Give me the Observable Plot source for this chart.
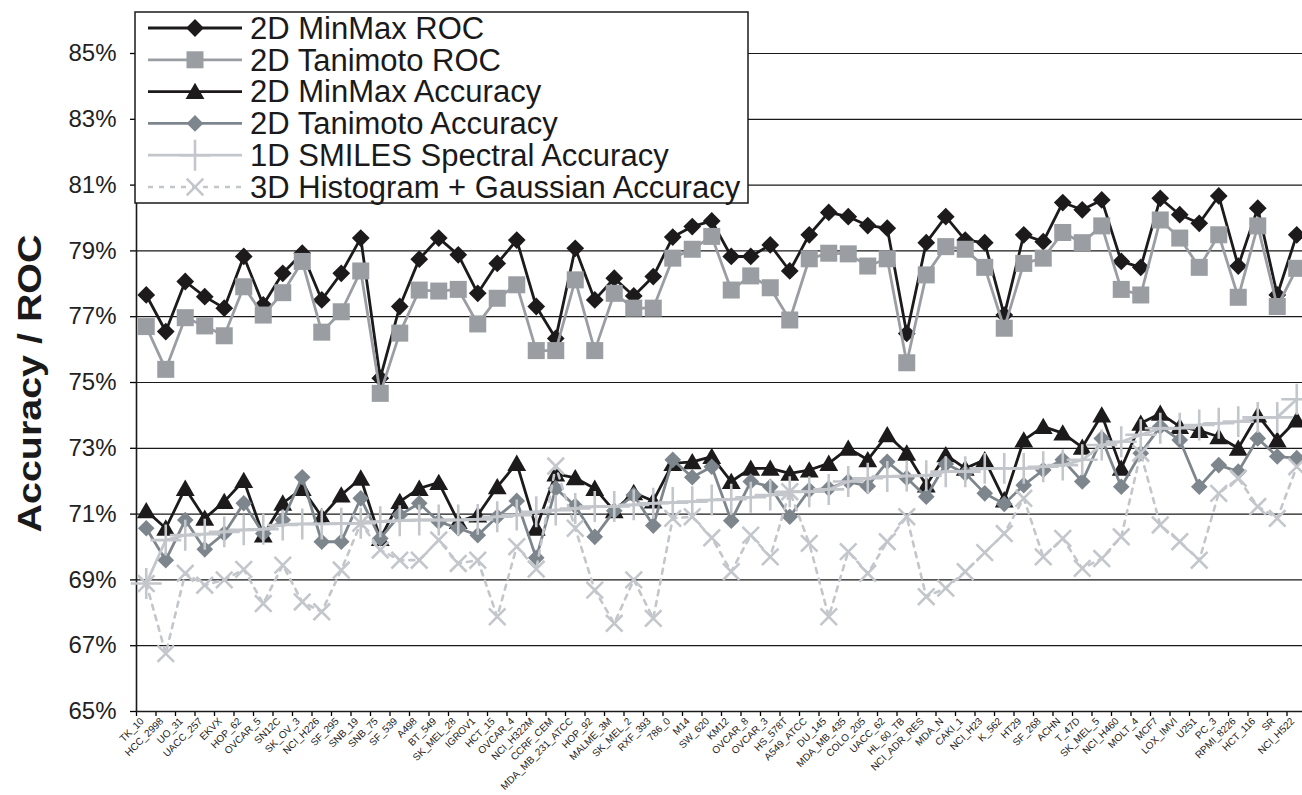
<!DOCTYPE html>
<html><head><meta charset="utf-8">
<script src="https://cdn.jsdelivr.net/npm/d3@7"></script>
<script src="https://cdn.jsdelivr.net/npm/@observablehq/plot@0.6"></script>
<style>
html,body{margin:0;padding:0;background:#fff;overflow:hidden}
#wrap{position:relative;width:1302px;height:795px;font-family:"Liberation Sans",Arial,sans-serif}
#wrap svg.plot{position:absolute;left:0;top:0}
#legend{position:absolute;left:134px;top:11px}
</style></head><body><div id="wrap"></div>
<script>
const cellLines = ["TK_10","HCC_2998","UO_31","UACC_257","EKVX","HOP_62","OVCAR_5","SN12C","SK_OV_3","NCI_H226","SF_295","SNB_19","SNB_75","SF_539","A498","BT_549","SK_MEL_28","IGROV1","HCT_15","OVCAR_4","NCI_H322M","CCRF_CEM","MDA_MB_231_ATCC","HOP_92","MALME_3M","SK_MEL_2","RXF_393","786_0","M14","SW_620","KM12","OVCAR_8","OVCAR_3","HS_578T","A549_ATCC","DU_145","MDA_MB_435","COLO_205","UACC_62","HL_60_TB","NCI_ADR_RES","MDA_N","CAKI_1","NCI_H23","K_562","HT29","SF_268","ACHN","T_47D","SK_MEL_5","NCI_H460","MOLT_4","MCF7","LOX_IMVI","U251","PC_3","RPMI_8226","HCT_116","SR","NCI_H522"];

const minmaxRoc = [77.66,76.55,78.07,77.61,77.26,78.83,77.36,78.32,78.93,77.51,78.32,79.39,75.13,77.31,78.75,79.39,78.88,77.71,78.62,79.33,
77.31,76.34,79.08,77.51,78.17,77.63,78.22,79.42,79.74,79.91,78.83,78.83,79.18,78.39,79.49,80.17,80.04,79.77,79.69,76.49,
79.25,80.04,79.33,79.25,77.05,79.49,79.28,80.47,80.25,80.55,78.68,78.50,80.60,80.10,79.84,80.67,78.54,80.30,77.66,79.49];

const tanimotoRoc = [76.70,75.40,76.97,76.72,76.42,77.91,77.05,77.73,78.68,76.53,77.15,78.39,74.67,76.50,77.81,77.78,77.83,76.78,77.56,77.97,
75.97,75.97,78.12,75.97,77.71,77.26,77.26,78.78,79.05,79.44,77.81,78.24,77.88,76.90,78.76,78.93,78.91,78.54,78.76,75.60,
78.27,79.13,79.05,78.50,76.65,78.62,78.78,79.56,79.25,79.76,77.83,77.66,79.94,79.39,78.50,79.49,77.59,79.76,77.31,78.47];

const minmaxAcc = [71.10,70.57,71.78,70.87,71.38,72.02,70.36,71.33,71.78,70.92,71.58,72.09,70.26,71.38,71.78,71.96,70.77,70.97,71.83,72.54,
70.57,72.22,72.10,71.78,71.10,71.65,71.40,72.54,72.59,72.75,71.99,72.39,72.39,72.24,72.34,72.54,73.00,72.65,73.41,72.85,
71.88,72.80,72.39,72.65,71.43,73.25,73.66,73.46,73.03,74.01,72.39,73.76,74.06,73.66,73.54,73.35,73.00,74.01,73.25,73.86];

const tanimotoAcc = [70.57,69.60,70.82,69.93,70.41,71.33,70.41,70.82,72.12,70.16,70.16,71.48,70.26,70.97,71.33,70.77,70.57,70.36,70.92,71.40,
69.67,71.78,71.25,70.31,71.10,71.58,70.65,72.65,72.12,72.44,70.80,71.99,71.83,70.92,71.73,71.78,71.99,71.85,72.59,72.10,
71.53,72.52,72.24,71.63,71.31,71.88,72.34,72.65,71.99,73.30,71.83,72.85,73.66,73.25,71.83,72.49,72.29,73.30,72.75,72.70];

const smilesAcc = [68.89,70.21,70.36,70.39,70.46,70.52,70.54,70.67,70.70,70.70,70.72,70.72,70.77,70.80,70.82,70.82,70.82,70.84,70.92,70.97,
71.07,71.12,71.17,71.23,71.23,71.28,71.33,71.35,71.38,71.43,71.45,71.51,71.58,71.68,71.68,71.75,71.99,72.09,72.14,72.16,
72.17,72.29,72.29,72.39,72.39,72.39,72.44,72.49,72.65,73.10,73.20,73.41,73.61,73.61,73.71,73.76,73.81,73.94,73.94,74.49];

const histAcc = [68.89,66.76,69.20,68.84,69.00,69.32,68.28,69.45,68.33,68.03,69.30,70.72,69.91,69.60,69.60,70.21,69.50,69.60,67.88,70.01,
69.33,72.46,70.57,68.69,67.68,69.00,67.83,70.87,70.92,70.28,69.25,70.36,69.70,71.68,70.11,67.88,69.86,69.20,70.16,70.92,
68.49,68.75,69.25,69.83,70.41,71.48,69.70,70.26,69.35,69.65,70.31,72.85,70.67,70.16,69.60,71.63,72.09,71.23,70.87,72.44];

const seriesNames = ["2D MinMax ROC","2D Tanimoto ROC","2D MinMax Accuracy","2D Tanimoto Accuracy","1D SMILES Spectral Accuracy","3D Histogram + Gaussian Accuracy"];
const seriesValues = [minmaxRoc, tanimotoRoc, minmaxAcc, tanimotoAcc, smilesAcc, histAcc];
const yTicks = [65,67,69,71,73,75,77,79,81,83,85];

// styles (not data)
const styles = [
  {color:"#1c1a1a", symbol:"diamond2", r:8,   filled:true,  lw:2.8, dash:null, dy:0},
  {color:"#9a9ea3", symbol:"square",   r:9.6, filled:true,  lw:2.8, dash:null, dy:0},
  {color:"#1c1a1a", symbol:"triangle", r:7,   filled:true,  lw:2.8, dash:null, dy:2},
  {color:"#7e868d", symbol:"diamond2", r:7.5, filled:true,  lw:2.8, dash:null, dy:0},
  {color:"#c3c6cb", symbol:"plus",     r:10,  filled:false, lw:2.8, dash:null, dy:0},
  {color:"#c3c6cb", symbol:"times",    r:7.6, filled:false, lw:2.6, dash:"5,6", dy:0}
];

const marks = [
  Plot.ruleY(yTicks.filter(d => d > 65), {stroke:"#1a1a1a", strokeWidth:1.2}),
  Plot.axisY({ticks: yTicks, tickFormat: d => d + "%", tickSize: 6, tickPadding: 14, fontSize: 24, label: null, fill:"#222", strokeWidth:1.3}),
  Plot.axisX({ticks: d3.range(61).map(i => i - 0.5), tickSize: 5, tickFormat: () => "", label: null, strokeWidth:1.3}),
  Plot.axisX({ticks: d3.range(60), tickSize: 0, tickPadding: 8, tickFormat: i => cellLines[i], tickRotate: -45,
              textAnchor: "end", lineAnchor: "middle", dx: -4, fontSize: 10, label: null, fill:"#222"}),
  Plot.ruleY([65], {stroke:"#1a1a1a", strokeWidth:1.6}),
  Plot.ruleX([-0.5], {y1: 65, y2: 86, stroke:"#1a1a1a", strokeWidth:1.6}),
  Plot.text(["Accuracy / ROC"], {text: d => d, frameAnchor: "left", dx: -106, rotate: -90, fontSize: 34, fontWeight: "bold", fill:"#1a1a1a"})
];

seriesValues.forEach((vals, k) => {
  const s = styles[k];
  const data = vals.map((v, i) => ({i, v}));
  marks.push(Plot.line(data, {x: "i", y: "v", stroke: s.color, strokeWidth: s.lw, strokeDasharray: s.dash, strokeLinejoin:"round"}));
  marks.push(Plot.dot(data, {x: "i", y: "v", symbol: s.symbol, r: s.r, dy: s.dy,
    fill: s.filled ? s.color : "none", stroke: s.filled ? "none" : s.color, strokeWidth: s.filled ? 0 : 2.6}));
});

const chart = Plot.plot({
  width: 1302, height: 795,
  marginLeft: 136, marginRight: 0, marginTop: 53, marginBottom: 84,
  style: {fontFamily: '"Liberation Sans", Arial, sans-serif', background: "#fff", overflow: "hidden"},
  x: {type: "linear", domain: [-0.5, 59.5], range: [136, 1306]},
  y: {type: "linear", domain: [65, 85]},
  marks
});
chart.classList.add("plot");
const wrap = document.getElementById("wrap");
wrap.appendChild(chart);

d3.select(chart).selectAll("text").filter(function(){ return this.textContent === "Accuracy / ROC"; })
  .attr("text-anchor", "start").attr("x", -150)
  .attr("textLength", 298).attr("lengthAdjust", "spacingAndGlyphs");

// legend overlay
const lg = d3.select(wrap).append("svg").attr("id","legend").attr("width", 618).attr("height", 196);
lg.append("rect").attr("x", 1).attr("y", 1).attr("width", 613).attr("height", 191)
  .attr("fill", "#fff").attr("stroke", "#1a1a1a").attr("stroke-width", 1.5);
seriesNames.forEach((name, k) => {
  const s = styles[k];
  const cy = 17 + 31.8 * k;
  lg.append("line").attr("x1", 14).attr("x2", 108).attr("y1", cy).attr("y2", cy)
    .attr("stroke", s.color).attr("stroke-width", s.lw).attr("stroke-dasharray", s.dash);
  const typeMap = {diamond2: d3.symbolDiamond2, square: d3.symbolSquare, triangle: d3.symbolTriangle, plus: d3.symbolPlus, times: d3.symbolTimes};
  lg.append("path").attr("d", d3.symbol(typeMap[s.symbol], Math.PI * s.r * s.r)())
    .attr("transform", `translate(61,${cy + (s.dy||0)})`)
    .attr("fill", s.filled ? s.color : "none").attr("stroke", s.filled ? "none" : s.color).attr("stroke-width", s.filled ? 0 : 2.6);
  lg.append("text").attr("x", 116).attr("y", cy).attr("dy", "0.35em")
    .attr("font-size", 31).attr("fill", "#1a1a1a").attr("font-family", '"Liberation Sans", Arial, sans-serif')
    .text(name);
});
</script></body></html>
